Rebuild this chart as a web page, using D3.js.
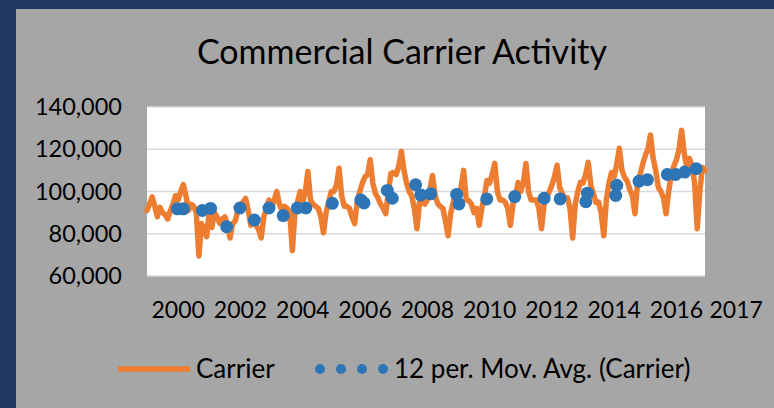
<!DOCTYPE html>
<html>
<head>
<meta charset="utf-8">
<script src="https://cdn.jsdelivr.net/npm/d3@7"></script>
<style>
  body { margin: 0; background: #1F3864; }
  text { font-family: Lato, "Open Sans", sans-serif; fill: #000; }
</style>
</head>
<body>
<div id="chart"></div>
<script>
const width = 774;
const height = 408;
const plot = { left: 147, right: 705, top: 107, bottom: 276 };

// monthly carrier counts, Jan 2000 .. Dec 2017 (one row per year)
const carrier = [
  91000, 94000, 97500, 93000, 88000, 92500, 90000, 89000, 87000, 91000, 94000, 98000,
  96000, 100000, 103300, 98000, 91000, 94000, 93000, 90000, 69500, 84800, 82000, 78600,
  91000, 83000, 90000, 88000, 85000, 87000, 88000, 84000, 78000, 84800, 86000, 91000,
  93000, 95000, 96700, 91000, 84000, 86000, 84000, 82000, 78000, 88000, 92000, 96000,
  92000, 96000, 100000, 94000, 91000, 93000, 92000, 90000, 72000, 90000, 95000, 100000,
  95000, 100000, 109500, 96000, 94000, 93000, 92000, 88000, 80500, 90000, 95000, 100000,
  100000, 103000, 111000, 98000, 93000, 93000, 92000, 88000, 84800, 95000, 100000, 104000,
  107000, 108000, 115000, 104000, 99000, 97000, 94000, 92000, 89500, 100000, 108600, 109000,
  108000, 112000, 119000, 110000, 104000, 100000, 98000, 92000, 82400, 94800, 96000, 94000,
  96000, 101000, 107600, 98000, 94300, 93000, 92000, 86000, 79000, 89500, 95000, 100000,
  98000, 102000, 110000, 96000, 95700, 94000, 90000, 92000, 84000, 92000, 98000, 105200,
  104000, 108000, 113300, 100000, 96000, 96000, 95000, 92000, 84000, 94000, 98000, 104300,
  100000, 104000, 113300, 100000, 96000, 96000, 96000, 92000, 82400, 94000, 97000, 100000,
  103000, 107000, 112400, 102000, 99000, 96700, 97000, 92000, 78000, 94000, 100000, 104300,
  104000, 108000, 113800, 103000, 99000, 94800, 95000, 90000, 79000, 96000, 104000, 109000,
  107000, 113000, 120500, 110000, 106700, 105000, 101000, 98000, 89500, 104000, 108000, 113000,
  117000, 120000, 126700, 116000, 110000, 102000, 100000, 97000, 89500, 100000, 108000, 112000,
  115000, 120000, 129000, 118000, 111400, 115700, 112000, 104000, 82400, 100000, 111400, 110000
];

// 12 per. moving average, as it shows up (month index, value)
const maMonth = [11.7, 14.0, 21.3, 24.5, 30.7, 35.8, 41.4, 47.0, 52.5, 57.9, 61.2, 71.4,
  82.4, 83.6, 92.6, 94.5, 103.5, 105.5, 109.3, 119.3, 120.2, 130.9, 141.7, 153.0,
  159.2, 169.7, 169.1, 181.0, 180.6, 189.6, 192.8, 200.5, 203.7, 207.2, 211.6];
const maValue = [91800, 91800, 91000, 92000, 83300, 92200, 86500, 92200, 88600, 92200, 92200, 94400,
  96000, 94600, 100500, 96800, 103200, 98400, 98900, 98600, 94100, 96500, 97600, 96800,
  96500, 99200, 95200, 102900, 98100, 104900, 105600, 108100, 108100, 109200, 110800];

const yTicks = [60000, 80000, 100000, 120000, 140000];
const yearLabels = [2000, 2002, 2004, 2006, 2008, 2010, 2012, 2014, 2016, 2017];
const labelMonth = [0, 24, 48, 72, 96, 120, 144, 168, 192, 215];

const svg = d3.select("#chart")
  .append("svg")
  .attr("width", width)
  .attr("height", height);

svg.append("rect")
  .attr("x", 16).attr("y", 9)
  .attr("width", width - 16).attr("height", height - 9)
  .attr("fill", "#A6A6A6");

const xScale = d3.scaleLinear()
  .domain([0, carrier.length - 1])
  .range([plot.left, plot.right]);

const yScale = d3.scaleLinear()
  .domain([60000, 140000])
  .range([plot.bottom, plot.top]);

svg.append("rect")
  .attr("x", plot.left).attr("y", plot.top)
  .attr("width", plot.right - plot.left)
  .attr("height", plot.bottom - plot.top)
  .attr("fill", "#fff");

// gridlines
svg.append("g")
  .selectAll("line")
  .data(yTicks)
  .enter().append("line")
  .attr("x1", plot.left).attr("x2", plot.right)
  .attr("y1", d => yScale(d)).attr("y2", d => yScale(d))
  .attr("stroke", "#D9D9D9")
  .attr("stroke-width", 1.5);

const yAxis = d3.axisLeft(yScale)
  .tickValues(yTicks)
  .tickFormat(d3.format(","))
  .tickSize(0)
  .tickPadding(25);

const yAxisGroup = svg.append("g")
  .attr("transform", `translate(${plot.left}, 0)`)
  .call(yAxis);
yAxisGroup.select(".domain").remove();
yAxisGroup.selectAll("text").style("font-size", "23.5px");

const xAxis = d3.axisBottom(xScale)
  .tickValues(labelMonth)
  .tickFormat((d, i) => yearLabels[i])
  .tickSize(0)
  .tickPadding(26);

const xAxisGroup = svg.append("g")
  .attr("transform", `translate(0, ${plot.bottom})`)
  .call(xAxis);
xAxisGroup.select(".domain").remove();
xAxisGroup.selectAll("text")
  .style("font-size", "23px")
  .attr("text-anchor", "start")
  .attr("dx", 4);

const line = d3.line()
  .x((d, i) => xScale(i))
  .y(d => yScale(d));

svg.append("path")
  .datum(carrier)
  .attr("d", line)
  .attr("fill", "none")
  .attr("stroke", "#ED7D31")
  .attr("stroke-width", 5.5)
  .attr("stroke-linejoin", "round")
  .attr("stroke-linecap", "round");

svg.append("g")
  .selectAll("circle")
  .data(maMonth)
  .enter().append("circle")
  .attr("cx", d => xScale(d))
  .attr("cy", (d, i) => yScale(maValue[i]))
  .attr("r", 6.5)
  .attr("fill", "#2E75B6");

svg.append("text")
  .attr("x", 402)
  .attr("y", 64)
  .attr("text-anchor", "middle")
  .style("font-size", "34px")
  .text("Commercial Carrier Activity");

// legend
const legend = svg.append("g");
legend.append("line")
  .attr("x1", 118).attr("x2", 190)
  .attr("y1", 369).attr("y2", 369)
  .attr("stroke", "#ED7D31")
  .attr("stroke-width", 5.5);
legend.append("text")
  .attr("x", 196).attr("y", 378)
  .style("font-size", "26px")
  .text("Carrier");
legend.selectAll("circle")
  .data([0, 1, 2, 3])
  .enter().append("circle")
  .attr("cx", d => 320 + d * 21)
  .attr("cy", 369)
  .attr("r", 5)
  .attr("fill", "#2E75B6");
legend.append("text")
  .attr("x", 394).attr("y", 378)
  .style("font-size", "26px")
  .text("12 per. Mov. Avg. (Carrier)");
</script>
</body>
</html>
